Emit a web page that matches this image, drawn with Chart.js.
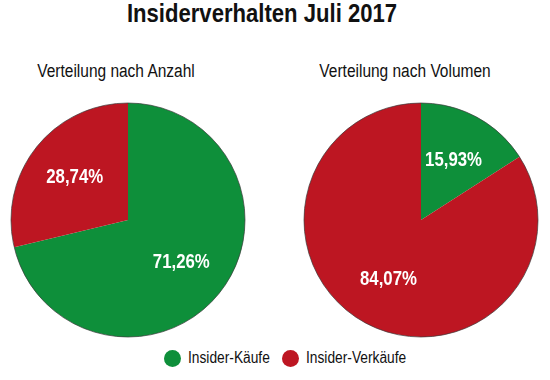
<!DOCTYPE html>
<html><head><meta charset="utf-8">
<script src="https://cdn.jsdelivr.net/npm/chart.js@4/dist/chart.umd.min.js"></script>
<style>
html,body{margin:0;padding:0;background:#fff;}
#wrap{position:relative;width:550px;height:380px;overflow:hidden;font-family:"Liberation Sans",Arial,sans-serif;color:#111;}
.t{position:absolute;white-space:nowrap;text-align:center;transform-origin:50% 50%;}
#title{left:-13px;width:550px;top:-2px;font-size:26px;font-weight:bold;transform:scaleX(0.85);}
#sub1{left:16px;width:200px;top:61px;font-size:18px;transform:scaleX(0.86);}
#sub2{left:305px;width:200px;top:61px;font-size:18px;transform:scaleX(0.86);}
canvas{position:absolute;}
.li{position:absolute;top:348px;white-space:nowrap;font-size:16px;height:20px;line-height:20px;}
.dot{position:absolute;left:0;top:2px;width:17px;height:17px;border-radius:50%;}
.lt{position:absolute;left:24px;top:0;transform:scaleX(0.86);transform-origin:0 50%;}
</style></head>
<body><div id="wrap">
<div id="title" class="t"></div>
<div id="sub1" class="t"></div>
<div id="sub2" class="t"></div>
<canvas id="c1" style="left:10px;top:102px;width:236px;height:236px"></canvas>
<canvas id="c2" style="left:303px;top:102px;width:236px;height:236px"></canvas>
<div id="legend"></div>
</div>
<script>
const chartTitle = "Insiderverhalten Juli 2017";
const categories = ["Insider-Käufe", "Insider-Verkäufe"];
const subtitles = ["Verteilung nach Anzahl", "Verteilung nach Volumen"];
const valuesAnzahl = [71.26, 28.74];
const valuesVolumen = [15.93, 84.07];
const colors = ["#0E8F3A", "#BD1622"];

document.getElementById('title').textContent = chartTitle;
document.getElementById('sub1').textContent = subtitles[0];
document.getElementById('sub2').textContent = subtitles[1];
const lg = document.getElementById('legend');
const legendLeft = [164, 282];
categories.forEach((c,i)=>{
  const s=document.createElement('div');s.className='li';s.style.left=legendLeft[i]+'px';
  const d=document.createElement('span');d.className='dot';d.style.background=colors[i];
  const t=document.createElement('span');t.className='lt';t.textContent=c;
  s.appendChild(d);s.appendChild(t);
  lg.appendChild(s);
});

const labelPlugin = {
  id:'pctLabels',
  afterDatasetsDraw(chart){
    const ctx=chart.ctx;
    const meta=chart.getDatasetMeta(0);
    const data=chart.data.datasets[0].data;
    ctx.save();
    const a0=meta.data[0];
    ctx.beginPath();ctx.arc(a0.x,a0.y,a0.outerRadius,0,Math.PI*2);
    ctx.strokeStyle='rgba(60,60,60,0.7)';ctx.lineWidth=1;ctx.stroke();
    ctx.fillStyle='#fff';
    ctx.font='bold 20px "Liberation Sans",Arial,sans-serif';
    ctx.textAlign='center';ctx.textBaseline='middle';
    meta.data.forEach((arc,i)=>{
      const p=arc.getProps(['x','y','startAngle','endAngle','outerRadius']);
      const a=(p.startAngle+p.endAngle)/2;
      const r=p.outerRadius*0.58;
      const x=p.x+Math.cos(a)*r, y=p.y+Math.sin(a)*r;
      ctx.save();ctx.translate(x,y);ctx.scale(0.84,1);
      ctx.fillText(data[i].toFixed(2).replace('.',',')+'%',0,0);
      ctx.restore();
    });
    ctx.restore();
  }
};

function makePie(id, values){
  const cv=document.getElementById(id);cv.width=236;cv.height=236;
  new Chart(cv,{
    type:'pie',
    data:{labels:categories,datasets:[{data:values,backgroundColor:colors,borderWidth:0}]},
    options:{responsive:false,animation:false,
      layout:{padding:1},
      plugins:{legend:{display:false},tooltip:{enabled:false}}},
    plugins:[labelPlugin]
  });
}
makePie('c1', valuesAnzahl);
makePie('c2', valuesVolumen);
</script>
</body></html>
